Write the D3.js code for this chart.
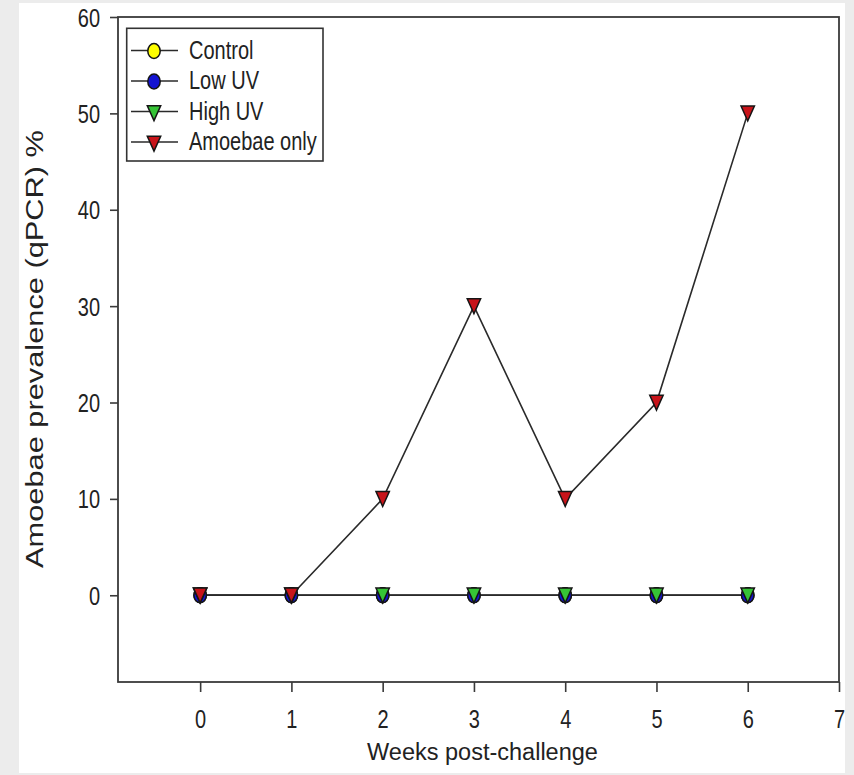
<!DOCTYPE html>
<html>
<head>
<meta charset="utf-8">
<script src="https://cdn.jsdelivr.net/npm/d3@7/dist/d3.min.js"></script>
<style>
  html, body { margin: 0; padding: 0; background: #ececec; }
  svg { display: block; }
  text { font-family: "Liberation Sans", Arial, sans-serif; fill: #222; }
</style>
</head>
<body>
<svg id="chart" width="854" height="775"></svg>
<script>
// Weeks after challenge and amoebae prevalence (%) for each treatment group
const weeks = [0, 1, 2, 3, 4, 5, 6];
const control = [0, 0, 0, 0, 0, 0, 0];
const lowUV = [0, 0, 0, 0, 0, 0, 0];
const highUV = [0, 0, 0, 0, 0, 0, 0];
const amoebaeOnly = [0, 0, 10, 30, 10, 20, 50];

const seriesNames = ["Control", "Low UV", "High UV", "Amoebae only"];
const seriesValues = [control, lowUV, highUV, amoebaeOnly];
const seriesColors = ["#ffff00", "#1414d2", "#36c436", "#c8141a"];
const seriesShapes = ["circle", "circle", "triangle", "triangle"];

const xTicks = [0, 1, 2, 3, 4, 5, 6, 7];
const yTicks = [0, 10, 20, 30, 40, 50, 60];

const xTitle = "Weeks post-challenge";
const yTitle = "Amoebae prevalence (qPCR) %";

const svg = d3.select("#chart");

// white panel behind the figure
svg.append("rect")
  .attr("x", 19).attr("y", 3).attr("width", 826).attr("height", 770)
  .attr("fill", "#ffffff");

const plot = { left: 118, right: 839, top: 17, bottom: 682 };

const x = d3.scaleLinear().domain([-0.9, 7]).range([plot.left, plot.right]);
const y = d3.scaleLinear().domain([-9, 60]).range([plot.bottom, plot.top]);

const axisColor = "#3a3a3a";
const tickFont = 25;
const squeeze = 0.8;

// frame around the plotting area
svg.append("rect")
  .attr("x", plot.left).attr("y", plot.top)
  .attr("width", plot.right - plot.left).attr("height", plot.bottom - plot.top)
  .attr("fill", "none").attr("stroke", axisColor).attr("stroke-width", 1.8);

// x axis
const gx = svg.append("g")
  .attr("transform", `translate(0,${plot.bottom})`)
  .call(d3.axisBottom(x).tickValues(xTicks).tickSize(10).tickSizeOuter(0).tickFormat(d3.format("d")));
gx.select(".domain").remove();
gx.selectAll(".tick line").attr("stroke", axisColor).attr("stroke-width", 1.6);
gx.selectAll(".tick text")
  .attr("y", 46).attr("dy", null)
  .attr("font-size", tickFont)
  .attr("fill", "#222")
  .attr("transform", `scale(${squeeze},1)`);

// y axis
const gy = svg.append("g")
  .attr("transform", `translate(${plot.left},0)`)
  .call(d3.axisLeft(y).tickValues(yTicks).tickSize(8).tickSizeOuter(0).tickFormat(d3.format("d")));
gy.select(".domain").remove();
gy.selectAll(".tick line").attr("stroke", axisColor).attr("stroke-width", 1.6);
gy.selectAll(".tick text")
  .attr("x", -18 / squeeze).attr("dy", "0.36em")
  .attr("font-size", tickFont)
  .attr("fill", "#222")
  .attr("transform", `scale(${squeeze},1)`);

// axis titles
svg.append("text")
  .attr("x", 482.5).attr("y", 760)
  .attr("text-anchor", "middle")
  .attr("font-size", 23.5)
  .text(xTitle);

svg.append("text")
  .attr("transform", "translate(43,349) rotate(-90)")
  .attr("text-anchor", "middle")
  .attr("font-size", 23)
  .attr("textLength", 438)
  .attr("lengthAdjust", "spacingAndGlyphs")
  .text(yTitle);

// marker shapes (slightly taller than wide)
const markerPath = {
  circle: "M0,-7.5 A6.2,7.5 0 1,1 0,7.5 A6.2,7.5 0 1,1 0,-7.5 Z",
  triangle: "M-6.7,-7.3 L6.7,-7.3 L0,7.6 Z"
};

const line = d3.line().x((d, i) => x(weeks[i])).y(d => y(d));

// connecting lines
seriesValues.forEach(vals => {
  svg.append("path")
    .datum(vals)
    .attr("d", line)
    .attr("fill", "none")
    .attr("stroke", "#2a2a2a")
    .attr("stroke-width", 1.6);
});

// markers, drawn in series order so later groups sit on top
seriesValues.forEach((vals, s) => {
  svg.append("g")
    .selectAll("path")
    .data(vals)
    .join("path")
    .attr("transform", (d, i) => `translate(${x(weeks[i])},${y(d)})`)
    .attr("d", markerPath[seriesShapes[s]])
    .attr("fill", seriesColors[s])
    .attr("stroke", "#151515")
    .attr("stroke-width", 1.5);
});

// legend
const legend = svg.append("g");
legend.append("rect")
  .attr("x", 126.7).attr("y", 28.3).attr("width", 196.3).attr("height", 132.7)
  .attr("fill", "#ffffff").attr("stroke", "#333").attr("stroke-width", 1.6);

seriesNames.forEach((name, s) => {
  const cy = 50.5 + s * 30.5;
  const row = legend.append("g").attr("transform", `translate(0,${cy})`);
  row.append("line")
    .attr("x1", 131).attr("x2", 178).attr("y1", 0).attr("y2", 0)
    .attr("stroke", "#2a2a2a").attr("stroke-width", 1.6);
  row.append("path")
    .attr("transform", `translate(154,${seriesShapes[s] === "triangle" ? 1.5 : 0.5})`)
    .attr("d", markerPath[seriesShapes[s]])
    .attr("fill", seriesColors[s])
    .attr("stroke", "#151515")
    .attr("stroke-width", 1.5);
  row.append("text")
    .attr("transform", `translate(189,8) scale(${squeeze},1)`)
    .attr("font-size", tickFont)
    .text(name);
});
</script>
</body>
</html>
